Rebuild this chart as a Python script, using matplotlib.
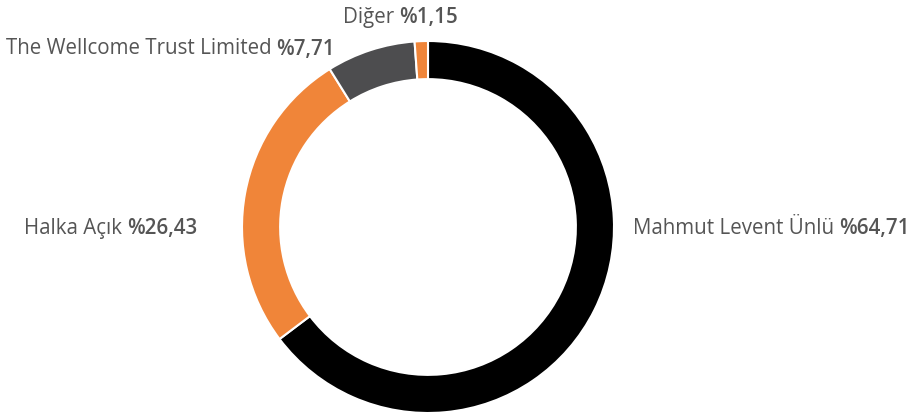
import matplotlib
matplotlib.use("Agg")
import matplotlib.pyplot as plt

labels = ["Mahmut Levent Ünlü", "Halka Açık", "The Wellcome Trust Limited", "Diğer"]
values = [64.71, 26.43, 7.71, 1.15]
value_texts = ["%64,71", "%26,43", "%7,71", "%1,15"]

colors = ["#000000", "#F08539", "#4D4D4F", "#F08539"]

W, H = 912, 416
fig = plt.figure(figsize=(W / 100, H / 100), dpi=100)
cx, cy, R = 428, 227, 186
ax = fig.add_axes([(cx - R) / W, (H - cy - R) / H, 2 * R / W, 2 * R / H])
ax.pie(values, colors=colors, startangle=90, counterclock=False,
       wedgeprops=dict(width=0.205, edgecolor="white", linewidth=1.5))
ax.set_xlim(-1, 1)
ax.set_ylim(-1, 1)
ax.set_aspect("equal")
ax.axis("off")

font = "Open Sans"
fs = 14.8
tcol = "#555555"
renderer = fig.canvas.get_renderer()

# label anchor positions (pixels, top-left origin), alignment
anchors = [(633, 228, "left"), (197, 228, "right"), (335, 49, "right"), (343, 17, "left")]


def px(x, y):
    return x / W, 1 - y / H


space_px = 5
for lab, vt, (x, y, ha) in zip(labels, value_texts, anchors):
    fx, fy = px(x, y)
    if ha == "left":
        t1 = fig.text(fx, fy, lab, ha="left", va="center", fontsize=fs,
                      family=font, color=tcol)
        bb = t1.get_window_extent(renderer)
        fig.text((bb.x1 + space_px) / W, fy, vt, ha="left", va="center",
                 fontsize=fs, family=font, weight="semibold", color=tcol)
    else:
        t2 = fig.text(fx, fy, vt, ha="right", va="center", fontsize=fs,
                      family=font, weight="semibold", color=tcol)
        bb = t2.get_window_extent(renderer)
        fig.text((bb.x0 - space_px) / W, fy, lab, ha="right", va="center",
                 fontsize=fs, family=font, color=tcol)

fig.savefig("out.png", dpi=100, facecolor="white")
